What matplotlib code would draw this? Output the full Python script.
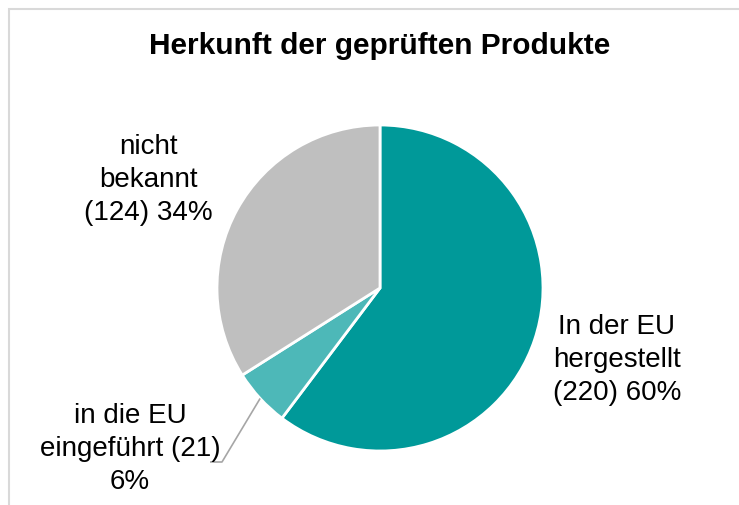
import numpy as np
import matplotlib
matplotlib.use("Agg")
import matplotlib.pyplot as plt
from matplotlib.patches import Rectangle

plt.rcParams['font.family'] = ['Liberation Sans', 'DejaVu Sans']

title = "Herkunft der geprüften Produkte"
categories = ["In der EU\nhergestellt", "in die EU\neingeführt", "nicht\nbekannt"]
counts = [220, 21, 124]
colors = ["#009999", "#4DB8B8", "#BFBFBF"]

W, H = 739, 505
fig = plt.figure(figsize=(W / 100, H / 100), dpi=100)
ax = fig.add_axes([0, 0, 1, 1])
ax.set_xlim(0, W)
ax.set_ylim(0, H)
ax.set_aspect('equal')
ax.axis('off')

cx, cy, r = 380, H - 288, 163
wedges, _ = ax.pie(counts, colors=colors, startangle=90, counterclock=False,
                   center=(cx, cy), radius=r,
                   wedgeprops=dict(edgecolor='white', linewidth=2))
ax.set_xlim(0, W)
ax.set_ylim(0, H)

total = sum(counts)
pcts = [round(c / total * 100) for c in counts]

fs = 20
lab = [
    f"In der EU\nhergestellt\n({counts[0]}) {pcts[0]}%",
    f"in die EU\neingeführt ({counts[1]})\n{pcts[1]}%",
    f"nicht\nbekannt\n({counts[2]}) {pcts[2]}%",
]
pos = [(617, H - 360), (130, H - 449), (148, H - 180)]
for t, (x, y) in zip(lab, pos):
    ax.text(x, y, t, ha='center', va='center', fontsize=fs, color='#000000',
            linespacing=1.33)

# leader line for small slice
w = wedges[1]
mid = np.deg2rad((w.theta1 + w.theta2) / 2)
px, py = cx + r * np.cos(mid), cy + r * np.sin(mid)
ax.plot([px, 222, 210], [py, H - 462, H - 462], color='#A6A6A6', lw=1.2,
        solid_capstyle='butt')

ax.text(380, H - 46, title, ha='center', va='center', fontsize=21.5,
        fontweight='bold', color='#000000')

fig.patches.append(Rectangle((9 / W, -0.1), 1.2, (H - 9) / H + 0.1,
                             transform=fig.transFigure, fill=False,
                             edgecolor='#D9D9D9', lw=1.5))

fig.savefig("out.png", dpi=100)
